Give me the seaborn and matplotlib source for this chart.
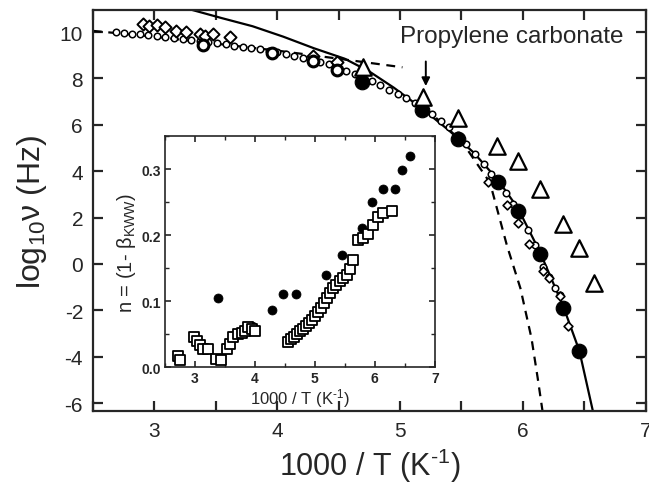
import numpy as np
import pandas as pd
import matplotlib
matplotlib.use("Agg")
import matplotlib.pyplot as plt
from matplotlib.ticker import MultipleLocator, FormatStrFormatter
import seaborn as sns

# ------------------------------------------------------------
# data (1000/T, log10 nu)
# ------------------------------------------------------------
# small open circles along the relaxation map
circ_x = [2.69, 2.75, 2.82, 2.88, 2.95, 3.02, 3.09, 3.16, 3.23, 3.30, 3.37, 3.44,
          3.51, 3.58, 3.65, 3.72, 3.79, 3.86, 3.93, 4.00, 4.07, 4.14, 4.21, 4.28,
          4.35, 4.42, 4.49, 4.56, 4.63, 4.70, 4.77, 4.84, 4.91, 4.98, 5.05, 5.12,
          5.19, 5.26, 5.33, 5.40, 5.47, 5.54, 5.61, 5.68, 5.74, 5.80, 5.86, 5.92,
          5.98, 6.04, 6.10, 6.16, 6.21, 6.26, 6.30]
circ_y = [9.99, 9.97, 9.93, 9.90, 9.86, 9.82, 9.78, 9.74, 9.70, 9.66, 9.61, 9.57,
          9.52, 9.47, 9.41, 9.36, 9.31, 9.25, 9.18, 9.12, 9.05, 8.98, 8.90, 8.82,
          8.72, 8.62, 8.45, 8.32, 8.18, 8.03, 7.88, 7.70, 7.52, 7.33, 7.14, 6.93,
          6.72, 6.45, 6.18, 5.90, 5.56, 5.18, 4.75, 4.30, 3.90, 3.45, 3.05, 2.60,
          2.10, 1.45, 0.80, -0.15, -0.55, -1.05, -1.35]

# larger open diamonds (high temperature)
dia_x = [2.91, 2.96, 3.02, 3.09, 3.18, 3.26, 3.37, 3.41, 3.48, 3.62, 4.29, 4.49]
dia_y = [10.34, 10.27, 10.30, 10.20, 10.06, 9.99, 9.91, 9.84, 9.91, 9.77, 8.97, 8.70]

# small open diamonds (low temperature)
sdia_x = [5.72, 5.87, 5.96, 6.05, 6.16, 6.21, 6.30, 6.37]
sdia_y = [3.55, 2.55, 1.78, 0.88, -0.30, -0.60, -1.40, -2.69]

# thick open circles (high temperature)
ring_x = [3.40, 3.96, 4.29, 4.49]
ring_y = [9.45, 9.08, 8.75, 8.35]

# filled circles
fill_x = [4.69, 5.18, 5.47, 5.80, 5.96, 6.14, 6.33, 6.46]
fill_y = [7.85, 6.65, 5.40, 3.55, 2.30, 0.45, -1.90, -3.75]

# open triangles
tri_x = [4.70, 5.19, 5.47, 5.79, 5.96, 6.14, 6.33, 6.46, 6.58]
tri_y = [8.50, 7.20, 6.30, 5.07, 4.42, 3.25, 1.74, 0.67, -0.84]

# solid fit curve
fit_x = [3.31, 3.55, 3.80, 4.05, 4.30, 4.55, 4.75, 4.95, 5.18, 5.40, 5.60, 5.80,
         5.96, 6.14, 6.33, 6.46, 6.57]
fit_y = [10.95, 10.60, 10.25, 9.80, 9.30, 8.85, 8.30, 7.60, 6.70, 5.75, 4.80, 3.60,
         2.40, 0.50, -1.85, -3.75, -6.35]

# dashed high-temperature curve
dash1_x = [2.50, 3.00, 3.50, 4.00, 4.50, 5.02]
dash1_y = [10.05, 9.80, 9.50, 9.20, 8.85, 8.48]

# dashed low-temperature curve
dash2_x = [5.20, 5.50, 5.72, 5.75, 5.87, 5.98, 6.07, 6.12, 6.16]
dash2_y = [6.75, 5.30, 3.60, 3.16, 0.80, -1.05, -3.20, -4.90, -6.35]

# inset: stretching parameter n = 1 - beta_KWW
in_fill_x = [3.39, 3.95, 4.28, 4.47, 4.69, 4.75, 5.18, 5.46, 5.78, 5.96, 6.14, 6.33, 6.46, 6.58]
in_fill_y = [0.105, 0.062, 0.087, 0.110, 0.110, 0.057, 0.140, 0.169, 0.211, 0.250, 0.269,
             0.269, 0.299, 0.320]

in_sq_x = [2.72, 2.76, 2.98, 3.04, 3.08, 3.14, 3.22, 3.36, 3.44, 3.53, 3.58, 3.64,
           3.72, 3.78, 3.83, 3.89, 3.95, 4.00,
           4.56, 4.61, 4.66, 4.71, 4.76, 4.81, 4.86, 4.91, 4.96, 5.01, 5.06, 5.11,
           5.16, 5.21, 5.26, 5.31, 5.36, 5.42, 5.47, 5.53, 5.58, 5.64, 5.72, 5.81,
           5.89, 5.97, 6.06, 6.14, 6.28]
in_sq_y = [0.017, 0.010, 0.045, 0.040, 0.033, 0.027, 0.027, 0.012, 0.010, 0.027, 0.035, 0.045,
           0.050, 0.052, 0.055, 0.060, 0.058, 0.055,
           0.038, 0.042, 0.046, 0.050, 0.054, 0.058, 0.062, 0.066, 0.071, 0.077, 0.083, 0.090,
           0.097, 0.104, 0.112, 0.119, 0.125, 0.130, 0.135, 0.140, 0.148, 0.162, 0.193, 0.195,
           0.202, 0.215, 0.228, 0.233, 0.236]

# ------------------------------------------------------------
# style
# ------------------------------------------------------------
sns.set_style("ticks")
plt.rcParams['font.family'] = ['Liberation Sans', 'DejaVu Sans']
plt.rcParams['mathtext.fontset'] = 'custom'
plt.rcParams['mathtext.rm'] = 'Liberation Sans'
plt.rcParams['mathtext.it'] = 'Liberation Sans:italic'
plt.rcParams['mathtext.default'] = 'regular'
plt.rcParams['axes.unicode_minus'] = False

fig = plt.figure(figsize=(6.49, 4.89), dpi=100)
ax = fig.add_axes([0.143, 0.157, 0.852, 0.8205])

# fit curves
sns.lineplot(x=fit_x, y=fit_y, sort=False, estimator=None, color='black', lw=1.6, ax=ax)
sns.lineplot(x=dash1_x, y=dash1_y, sort=False, estimator=None, color='black', lw=1.6,
             ax=ax).lines[-1].set_dashes([4, 3])
sns.lineplot(x=dash2_x, y=dash2_y, sort=False, estimator=None, color='black', lw=1.6,
             ax=ax).lines[-1].set_dashes([4, 3])

# data
sns.scatterplot(x=circ_x, y=circ_y, marker='o', s=22, facecolor='white', edgecolor='black',
                linewidth=1.1, ax=ax, zorder=3)
sns.scatterplot(x=dia_x, y=dia_y, marker='D', s=38, facecolor='white', edgecolor='black',
                linewidth=1.4, ax=ax, zorder=3)
sns.scatterplot(x=sdia_x, y=sdia_y, marker='D', s=20, facecolor='white', edgecolor='black',
                linewidth=1.2, ax=ax, zorder=3)
sns.scatterplot(x=ring_x, y=ring_y, marker='o', s=60, facecolor='white', edgecolor='black',
                linewidth=2.2, ax=ax, zorder=4)
sns.scatterplot(x=fill_x, y=fill_y, marker='o', s=110, color='black', edgecolor='black',
                ax=ax, zorder=4)
sns.scatterplot(x=tri_x, y=tri_y, marker='^', s=140, facecolor='white', edgecolor='black',
                linewidth=1.6, ax=ax, zorder=4)

ax.annotate('', xy=(5.21, 7.55), xytext=(5.21, 8.85),
            arrowprops=dict(arrowstyle='-|>', color='black', lw=1.4, mutation_scale=12))
ax.text(5.91, 9.83, 'Propylene carbonate', ha='center', va='center', fontsize=17.5)

ax.set_xlim(2.5, 7)
ax.set_ylim(-6.35, 10.95)
ax.xaxis.set_major_locator(MultipleLocator(1))
ax.xaxis.set_minor_locator(MultipleLocator(0.5))
ax.yaxis.set_major_locator(MultipleLocator(2))
ax.tick_params(which='both', direction='in', top=True, right=True, length=7, width=1.6,
               labelsize=15, pad=7)
for s in ax.spines.values():
    s.set_linewidth(1.6)
ax.set_xlabel(r'1000 / T (K$^{\text{-1}}$)', fontsize=22, labelpad=4)
ax.set_ylabel('log$_{10}$ν (Hz)', fontsize=23, labelpad=8)

# ------------------------------------------------------------
# inset
# ------------------------------------------------------------
ins = fig.add_axes([0.254, 0.2474, 0.416, 0.4724])
sns.scatterplot(x=in_sq_x, y=in_sq_y, marker='s', s=55, facecolor='white', edgecolor='black',
                linewidth=1.3, ax=ins, zorder=3)
sns.scatterplot(x=in_fill_x, y=in_fill_y, marker='o', s=42, color='black', edgecolor='black',
                ax=ins, zorder=2)
ins.set_xlim(2.5, 7)
ins.set_ylim(0, 0.35)
ins.xaxis.set_major_locator(MultipleLocator(1))
ins.xaxis.set_minor_locator(MultipleLocator(0.5))
ins.yaxis.set_major_locator(MultipleLocator(0.1))
ins.yaxis.set_minor_locator(MultipleLocator(0.05))
ins.yaxis.set_major_formatter(FormatStrFormatter('%.1f'))
ins.tick_params(which='major', direction='in', top=True, right=True, length=4, width=1.2,
                labelsize=10, pad=3)
ins.tick_params(which='minor', direction='in', top=True, right=True, length=3, width=1.0)
for lab in ins.get_xticklabels() + ins.get_yticklabels():
    lab.set_fontweight('bold')
for s in ins.spines.values():
    s.set_linewidth(1.2)
ins.set_xlabel(r'1000 / T (K$^{\text{-1}}$)', fontsize=12, labelpad=1)
ins.set_ylabel('n = (1- β$_{KWW}$)', fontsize=14.5, labelpad=2)

fig.savefig('out.png', dpi=100)
